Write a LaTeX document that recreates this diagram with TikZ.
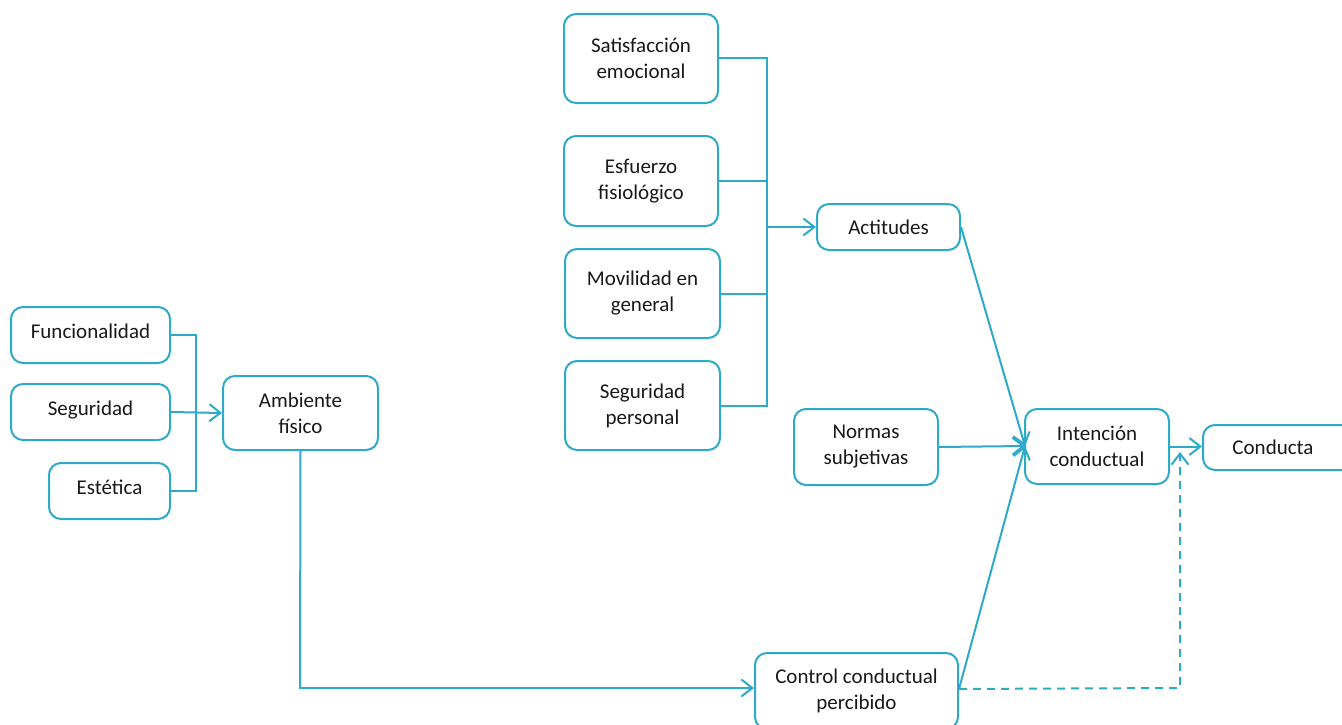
\documentclass[tikz,border=0pt]{standalone}
\usepackage{fontspec}
\setmainfont{Carlito}
\usetikzlibrary{arrows.meta}
\definecolor{ln}{RGB}{45,170,200}
\definecolor{tx}{RGB}{25,25,25}
\begin{document}
\begin{tikzpicture}[x=1pt,y=-1pt,
  box/.style={draw=ln,line width=2pt,rounded corners=12pt,fill=white,text=tx,align=center,inner sep=0pt,font=\fontsize{21}{26}\selectfont},
  upper/.style={text height=14pt,text depth=7pt},
  conn/.style={draw=ln,line width=2pt},
  arr/.style={conn,-{Straight Barb[length=11pt,width=17pt,line width=2pt]}},
  dashln/.style={arr,dash pattern=on 8pt off 6pt}]
\useasboundingbox (0,0) rectangle (1342,725);
\begin{scope}
\clip (0,0) rectangle (1342,725);
% left group
\node[box,upper,minimum width=159pt,minimum height=56pt] (fun) at (90.5,335) {Funcionalidad};
\node[box,upper,minimum width=159pt,minimum height=56pt] (seg) at (90.5,412) {Seguridad};
\node[box,upper,minimum width=121pt,minimum height=56pt] (est) at (109.5,491) {Estética};
\node[box,minimum width=155pt,minimum height=74pt] (amb) at (300.5,413) {Ambiente\\físico};
% middle group
\node[box,minimum width=154pt,minimum height=89pt] (sat) at (641,58.5) {Satisfacción\\emocional};
\node[box,minimum width=154pt,minimum height=90pt] (esf) at (641,181) {Esfuerzo\\fisiológico};
\node[box,minimum width=155pt,minimum height=89pt] (mov) at (642.5,293.5) {Movilidad en\\general};
\node[box,minimum width=155pt,minimum height=89pt] (sper) at (642.5,405.5) {Seguridad\\personal};
\node[box,minimum width=143pt,minimum height=46pt] (act) at (888.5,227) {Actitudes};
\node[box,minimum width=144pt,minimum height=76pt] (nor) at (866,447) {Normas\\subjetivas};
\node[box,minimum width=144pt,minimum height=75pt] (int) at (1097,446.5) {Intención\\conductual};
\node[box,minimum width=150pt,minimum height=45pt,anchor=west] (con) at (1202,447.5) {\hspace*{-10pt}\raisebox{-2pt}{Conducta}};
\node[box,minimum width=203pt,minimum height=76pt,anchor=north west] (ctl) at (754,652) {Control conductual\\percibido};
% coordinates
\coordinate (lb) at (196,412);
\coordinate (mb) at (767,227);
\coordinate (hit) at (1025,446);
\coordinate (ad) at (300,688);
\coordinate (ce) at ([yshift=2pt]ctl.east);
\coordinate (dc) at (1180,688);
\coordinate (dt) at (1180,452);
% left bus
\draw[conn] (fun.east) -- (fun.east -| lb) -- (est.east -| lb) -- (est.east);
\draw[arr] (seg.east) -- (amb.west);
% middle bus
\draw[conn] (sat.east) -- (sat.east -| mb) -- (sper.east -| mb) -- (sper.east);
\draw[conn] (esf.east) -- (esf.east -| mb);
\draw[conn] (mov.east) -- (mov.east -| mb);
\draw[arr] (mb) -- (act.west);
% to intention
\draw[arr] (act.east) -- (hit);
\draw[arr] (nor.east) -- (hit);
\draw[arr] (ce) -- (hit);
\draw[arr] (int.east) -- (int.east -| con.west);
% ambiente to control
\draw[arr] (amb.south) -- (ad) -- (ad -| ctl.west);
% dashed
\draw[dashln] (ce) -- (dc) -- (dt);
\end{scope}
\end{tikzpicture}
\end{document}
